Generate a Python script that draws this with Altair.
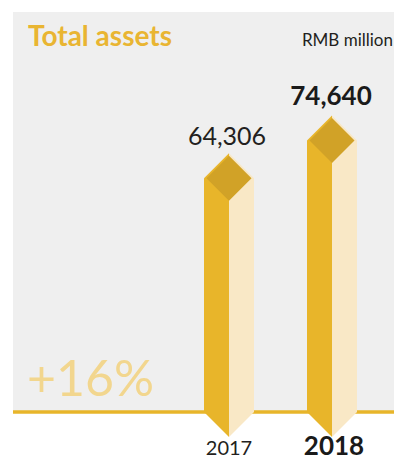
import altair as alt
import pandas as pd

years = [2017, 2018]
values = [64306, 74640]
title_text = "Total assets"
unit_text = "RMB million"

GOLD = "#E8B52A"
CREAM = "#F9E8C6"
DARK = "#D1A227"
PANEL = "#EFEFEF"

growth_text = "+{:.0f}%".format((values[1] / values[0] - 1) * 100)

bars = pd.DataFrame({"year": years, "value": values})

W, H = 381, 400
HALF = 0.2427  # half bar width in year units (styling)

xscale = alt.Scale(domain=[2014.9029, 2018.6019], nice=False, zero=False)
yscale = alt.Scale(domain=[0, 110000], nice=False)
x = alt.X("year:Q", scale=xscale, axis=None)
y = alt.Y("value:Q", scale=yscale, axis=None)
y0 = alt.Y("zero:Q", scale=yscale, axis=None)

base = alt.Chart(bars).transform_calculate(zero="0")

baseline = base.mark_rule(color=GOLD, strokeWidth=3).encode(y=y0)

left_face = (
    base.transform_calculate(x0=f"datum.year - {HALF}")
    .mark_rect(color=GOLD, strokeWidth=0)
    .encode(x=alt.X("x0:Q", scale=xscale, axis=None), x2="year:Q", y=y, y2="zero:Q")
)
right_face = (
    base.transform_calculate(x1=f"datum.year + {HALF}")
    .mark_rect(color=CREAM, strokeWidth=0)
    .encode(x=x, x2="x1:Q", y=y, y2="zero:Q")
)

def shape_layer(path, color, at_zero=False, size=2500):
    return base.mark_point(
        shape=path, filled=True, opacity=1, color=color, size=size, strokeWidth=0
    ).encode(x=x, y=y0 if at_zero else y)

top_left = shape_layer("M-1,0L0,-1L0,1Z", GOLD)
top_right = shape_layer("M0,-1L1,0L0,1Z", CREAM)
top_inner = shape_layer("M-0.9,0L0,-0.9L0.9,0L0,0.9Z", DARK)
bot_left = shape_layer("M-1,0L0,1L0,0Z", GOLD, at_zero=True)
bot_right = shape_layer("M0,0L1,0L0,1Z", CREAM, at_zero=True)

val_2017 = (
    base.transform_filter(alt.datum.year == 2017)
    .mark_text(font="Lato", fontSize=25, color="#231F20", baseline="alphabetic", dy=-33, dx=-2)
    .encode(x=x, y=y, text=alt.Text("value:Q", format=","))
)
val_2018 = (
    base.transform_filter(alt.datum.year == 2018)
    .mark_text(font="Lato", fontSize=26, fontWeight="bold", color="#1A1A1A", baseline="alphabetic", dy=-36, dx=-1)
    .encode(x=x, y=y, text=alt.Text("value:Q", format=","))
)
yr_2017 = (
    base.transform_filter(alt.datum.year == 2017)
    .mark_text(font="Lato", fontSize=20, color="#231F20", baseline="alphabetic", dy=43)
    .encode(x=x, y=y0, text=alt.Text("year:Q", format="d"))
)
yr_2018 = (
    base.transform_filter(alt.datum.year == 2018)
    .mark_text(font="Lato", fontSize=26, fontWeight="bold", color="#1A1A1A", baseline="alphabetic", dy=43, dx=2)
    .encode(x=x, y=y0, text=alt.Text("year:Q", format="d"))
)

growth = (
    alt.Chart(pd.DataFrame({"t": [growth_text]}))
    .mark_text(font="Lato", fontSize=50, color="#F2D68E", align="left", baseline="alphabetic")
    .encode(x=alt.value(14), y=alt.value(384), text="t:N")
)

title = (
    alt.Chart(pd.DataFrame({"t": [title_text]}))
    .mark_text(font="Lato", fontSize=28, fontWeight="bold", color="#E9B532", align="left", baseline="alphabetic")
    .encode(x=alt.value(15), y=alt.value(34), text="t:N")
)
unit = (
    alt.Chart(pd.DataFrame({"t": [unit_text]}))
    .mark_text(font="Lato", fontSize=17, color="#231F20", align="right", baseline="alphabetic")
    .encode(x=alt.value(380), y=alt.value(34), text="t:N")
)

chart = (
    alt.layer(
        baseline, left_face, right_face, top_left, top_right, top_inner, bot_left, bot_right,
        val_2017, val_2018, yr_2017, yr_2018, growth, title, unit,
    )
    .properties(
        width=W,
        height=H,
        autosize=alt.AutoSizeParams(type="none"),
        padding={"left": 5, "top": 4, "right": 0, "bottom": 46},
        background="white",
    )
    .configure_view(fill=PANEL, strokeWidth=0)
)

chart.save("out.html", embed_options={"renderer": "svg", "actions": False})
